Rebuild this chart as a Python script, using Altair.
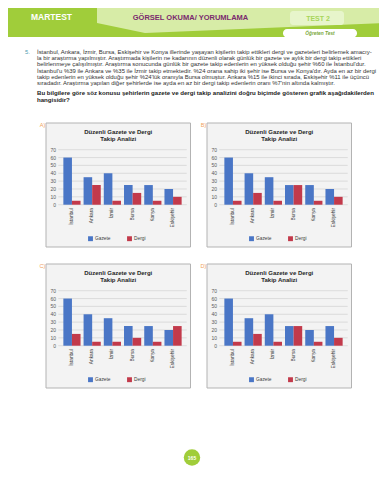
import altair as alt
import pandas as pd

# ---------------- data ----------------
CITIES = ["İstanbul", "Ankara", "İzmir", "Bursa", "Konya", "Eskişehir"]
SERIES = ["Gazete", "Dergi"]
Y_TICKS = [0, 10, 20, 30, 40, 50, 60, 70]

GAZETE_A = [60, 35, 40, 25, 25, 20]
DERGI_A = [5, 25, 5, 15, 5, 10]
GAZETE_B = [60, 40, 35, 25, 25, 20]
DERGI_B = [5, 15, 5, 25, 5, 10]
GAZETE_C = [60, 40, 35, 25, 25, 20]
DERGI_C = [15, 5, 5, 10, 5, 25]
GAZETE_D = [60, 35, 40, 25, 20, 25]
DERGI_D = [5, 15, 5, 25, 5, 10]

OPTION_LETTERS = ["A)", "B)", "C)", "D)"]
CHART_TITLE = ["Düzenli Gazete ve Dergi", "Takip Analizi"]

HEADER_BRAND = "MARTEST"
HEADER_TITLE = "GÖRSEL OKUMA/ YORUMLAMA"
HEADER_TEST = "TEST 2"
HEADER_RIBBON = "Öğreten Test"
QUESTION_NO = "5."
QUESTION_LINES = [
    "İstanbul, Ankara, İzmir, Bursa, Eskişehir ve Konya illerinde yaşayan kişilerin takip ettikleri dergi ve gazeteleri belirlemek amacıy-",
    "la bir araştırma yapılmıştır. Araştırmada kişilerin ne kadarının düzenli olarak günlük bir gazete ve aylık bir dergi takip ettikleri",
    "belirlenmeye çalışılmıştır. Araştırma sonucunda günlük bir gazete takip edenlerin en yüksek olduğu şehir %60 ile İstanbul'dur.",
    "İstanbul'u %39 ile Ankara ve %35 ile İzmir takip etmektedir. %24 orana sahip iki şehir ise Bursa ve Konya'dır. Ayda en az bir dergi",
    "takip edenlerin en yüksek olduğu şehir %24'lük oranıyla Bursa olmuştur. Ankara %15 ile ikinci sırada, Eskişehir %11 ile üçüncü",
    "sıradadır. Araştırma yapılan diğer şehirlerde ise ayda en az bir dergi takip edenlerin oranı %7'nin altında kalmıştır.",
]
PROMPT_LINES = [
    "Bu bilgilere göre söz konusu şehirlerin gazete ve dergi takip analizini doğru biçimde gösteren grafik aşağıdakilerden",
    "hangisidir?",
]
PAGE_NO = "165"

# ---------------- styling / layout ----------------
BLUE = "#4a76c6"
RED = "#c23a4b"
GREEN = "#a0cd3a"
LIGHT_GREEN = "#d7eca7"
FONT = "Liberation Sans"
W, H = 371, 464
OFF = 8  # page margin
PW, PH = 144.5, 124

COLOR_SCALE = alt.Scale(domain=SERIES, range=[BLUE, RED])
ONE = pd.DataFrame({"k": [0]})


def txt(s, x, y, **kw):
    props = dict(font=FONT, baseline="middle")
    props.update(kw)
    return alt.Chart(ONE).mark_text(text=s, **props).encode(
        x=alt.value(x), y=alt.value(y))


def rect(x, x2, y, y2, **kw):
    return alt.Chart(ONE).mark_rect(**kw).encode(
        x=alt.value(x), x2=alt.value(x2), y=alt.value(y), y2=alt.value(y2))


def panel(gaz, der, letter, left, top):
    x0, y0 = left - OFF, top - OFF
    df = pd.DataFrame({
        "city": CITIES * 2,
        "series": [SERIES[0]] * len(CITIES) + [SERIES[1]] * len(CITIES),
        "value": gaz + der,
    })
    ticks = pd.DataFrame({"t": Y_TICKS})
    xs = alt.Scale(domain=CITIES, range=[x0 + 12.3, x0 + 140.7],
                   paddingInner=0.15, paddingOuter=0.25)
    ys = alt.Scale(domain=[0, 70], range=[y0 + 81.7, y0 + 26.7], nice=False)

    layers = [
        rect(x0, x0 + PW, y0, y0 + PH, fill="#f3f3f3", stroke="#b3b3b3", strokeWidth=1),
        alt.Chart(ticks).mark_rule(stroke="#d6d6d6", strokeWidth=0.8).encode(
            y=alt.Y("t:Q", scale=ys, axis=None),
            x=alt.value(x0 + 12.3), x2=alt.value(x0 + 140.7)),
        alt.Chart(df).mark_bar().encode(
            x=alt.X("city:N", scale=xs, axis=None),
            xOffset=alt.XOffset("series:N", scale=alt.Scale(domain=SERIES)),
            y=alt.Y("value:Q", scale=ys, axis=None),
            color=alt.Color("series:N", scale=COLOR_SCALE, legend=None)),
        alt.Chart(ticks).mark_text(font=FONT, align="right", baseline="middle",
                                   fontSize=5, color="#595959").encode(
            y=alt.Y("t:Q", scale=ys, axis=None),
            x=alt.value(x0 + 10), text="t:Q"),
        alt.Chart(pd.DataFrame({"city": CITIES})).mark_text(
            font=FONT, angle=270, align="right", baseline="middle",
            fontSize=4.8, color="#404040").encode(
            x=alt.X("city:N", scale=xs, axis=None),
            y=alt.value(y0 + 85), text="city:N"),
        txt(letter, x0 - 3.5, y0 + 2, fontSize=5.5, color="#f0a35e", align="center"),
    ]
    for i, line in enumerate(CHART_TITLE):
        layers.append(txt(line, x0 + PW / 2, y0 + 9 + 6.5 * i, fontSize=6,
                          fontWeight="bold", color="#262626", align="center"))
    for i, s in enumerate(SERIES):
        sx = x0 + 44.5 + 39 * i
        d = pd.DataFrame({"series": [s]})
        layers.append(alt.Chart(d).mark_square(size=24, opacity=1).encode(
            x=alt.value(sx), y=alt.value(y0 + 115.7),
            color=alt.Color("series:N", scale=COLOR_SCALE, legend=None)))
        layers.append(alt.Chart(d).mark_text(font=FONT, fontSize=4.8, align="left",
                                             baseline="middle", color="#404040").encode(
            x=alt.value(sx + 4.5), y=alt.value(y0 + 115.7), text="series:N"))
    return alt.layer(*layers)


# ---------------- header ----------------
header_poly = pd.DataFrame({"px": [89, 137, 371], "bot": [15, 25, 15.3], "top": [0, 0, 0]})
header = [
    rect(0, W, 0, 29, fill=GREEN),
    alt.Chart(header_poly).mark_area(color=LIGHT_GREEN, opacity=1).encode(
        x=alt.X("px:Q", scale=alt.Scale(domain=[0, W], range=[0, W], nice=False, zero=False), axis=None),
        y=alt.Y("bot:Q", scale=alt.Scale(domain=[0, H], range=[0, H], nice=False, zero=False), axis=None),
        y2="top:Q"),
    rect(282, 336, 3, 17, fill="#e7f5cb", cornerRadius=3),
    rect(275, 349, 21, 29.5, fill="white", cornerRadius=4),
    txt(HEADER_BRAND, 43.5, 9, fontSize=8.5, fontWeight="bold", color="white", align="center"),
    txt(HEADER_TITLE, 182.5, 9.5, fontSize=7.5, fontWeight="bold", color="#7a2a6e", align="center"),
    txt(HEADER_TEST, 310, 10.5, fontSize=7, fontWeight="bold", color="#a8d55a", align="center"),
    txt(HEADER_RIBBON, 312, 25.5, fontSize=4.8, fontWeight="bold", fontStyle="italic",
        color="#79a83a", align="center"),
]

# ---------------- question text ----------------
question = [txt(QUESTION_NO, 17, 43.5, fontSize=5.8, color="#4f9db0", align="left")]
for i, line in enumerate(QUESTION_LINES):
    question.append(txt(line, 29, 43.5 + 6.37 * i, fontSize=5.95, color="#333333", align="left"))
for i, line in enumerate(PROMPT_LINES):
    question.append(txt(line, 29, 85.3 + 6.4 * i, fontSize=6.1, fontWeight="bold",
                        color="#222222", align="left"))

# ---------------- footer ----------------
footer = [
    alt.Chart(ONE).mark_point(shape="circle", filled=True, size=270, color=GREEN, opacity=1).encode(
        x=alt.value(184), y=alt.value(449.5)),
    txt(PAGE_NO, 184, 449.5, fontSize=5, fontWeight="bold", color="white", align="center"),
]

panels = [
    panel(GAZETE_A, DERGI_A, OPTION_LETTERS[0], 46, 123),
    panel(GAZETE_B, DERGI_B, OPTION_LETTERS[1], 207, 123),
    panel(GAZETE_C, DERGI_C, OPTION_LETTERS[2], 46, 264),
    panel(GAZETE_D, DERGI_D, OPTION_LETTERS[3], 207, 264),
]

chart = alt.layer(*header, *question, *panels, *footer).resolve_scale(
    x="independent", y="independent"
).properties(
    width=W, height=H, padding=0, background="white"
).configure_view(stroke=None)

chart.save("out.html", embed_options={"renderer": "svg", "actions": False})
